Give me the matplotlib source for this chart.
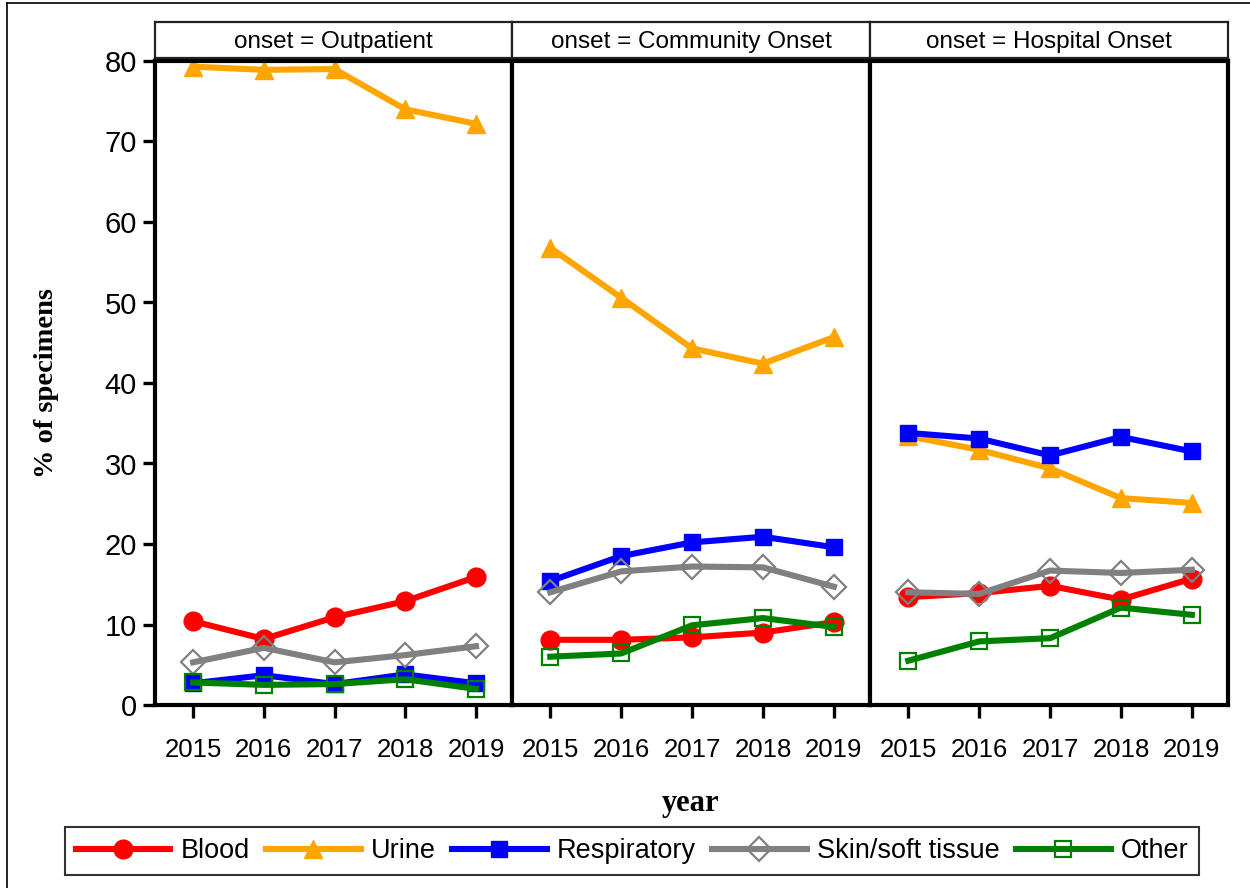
import matplotlib
matplotlib.use("Agg")
import matplotlib.pyplot as plt
from matplotlib.lines import Line2D

# ---- data -------------------------------------------------------------
years = [2015, 2016, 2017, 2018, 2019]
onsets = ["Outpatient", "Community Onset", "Hospital Onset"]
series_names = ["Blood", "Urine", "Respiratory", "Skin/soft tissue", "Other"]

blood = {
    "Outpatient": [10.4, 8.2, 10.9, 12.9, 15.9],
    "Community Onset": [8.1, 8.1, 8.4, 9.0, 10.3],
    "Hospital Onset": [13.4, 13.9, 14.8, 13.1, 15.7],
}
urine = {
    "Outpatient": [79.3, 78.9, 79.0, 74.0, 72.2],
    "Community Onset": [56.8, 50.6, 44.3, 42.4, 45.7],
    "Hospital Onset": [33.4, 31.7, 29.4, 25.7, 25.1],
}
respiratory = {
    "Outpatient": [2.7, 3.7, 2.6, 3.8, 2.7],
    "Community Onset": [15.4, 18.5, 20.2, 20.9, 19.6],
    "Hospital Onset": [33.8, 33.1, 31.0, 33.3, 31.5],
}
skin = {
    "Outpatient": [5.3, 7.1, 5.3, 6.2, 7.3],
    "Community Onset": [14.0, 16.6, 17.2, 17.1, 14.7],
    "Hospital Onset": [14.0, 13.8, 16.7, 16.4, 16.8],
}
other = {
    "Outpatient": [2.8, 2.5, 2.6, 3.2, 2.0],
    "Community Onset": [6.0, 6.4, 9.9, 10.8, 9.7],
    "Hospital Onset": [5.5, 7.9, 8.3, 12.1, 11.2],
}
y_ticks = [0, 10, 20, 30, 40, 50, 60, 70, 80]

# ---- styles -----------------------------------------------------------
styles = [
    dict(color="#FF0000", marker="o", ms=13.5, mfc="#FF0000", mec="#FF0000", mew=1),
    dict(color="#FFA500", marker="^", ms=13.5, mfc="#FFA500", mec="#FFA500", mew=1),
    dict(color="#0000FF", marker="s", ms=11, mfc="#0000FF", mec="#0000FF", mew=1),
    dict(color="#808080", marker="D", ms=12, mfc="none", mec="#808080", mew=1.6),
    dict(color="#008000", marker="s", ms=12, mfc="none", mec="#008000", mew=1.6),
]
all_series = [blood, urine, respiratory, skin, other]

plt.rcParams["font.family"] = ["Liberation Sans", "DejaVu Sans"]

W, H = 1250, 888
fig = plt.figure(figsize=(W / 100, H / 100), dpi=100)

panel_x = [155, 512, 870, 1228]
top_px, bot_px = 61, 705
strip_top, strip_bot = 22, 58

handles = []
for i, onset in enumerate(onsets):
    x0, x1 = panel_x[i], panel_x[i + 1]
    ax = fig.add_axes([x0 / W, 1 - bot_px / H, (x1 - x0) / W, (bot_px - top_px) / H])
    for data, st, name in zip(all_series, styles, series_names):
        ln, = ax.plot(years, data[onset], lw=4.4, label=name,
                      solid_joinstyle="round", **st)
        if i == 0:
            handles.append(ln)
    ax.set_xlim(2014.46, 2019.51)
    ax.set_ylim(0, 80)
    ax.set_xticks(years)
    ax.set_xticklabels([str(y) for y in years], fontsize=18.5)
    ax.tick_params(axis="x", direction="out", length=9, width=2.4, pad=15)
    ax.set_yticks(y_ticks)
    if i == 0:
        ax.set_yticklabels([str(v) for v in y_ticks], fontsize=21)
        ax.tick_params(axis="y", direction="out", length=9, width=2.4, pad=4)
    else:
        ax.tick_params(axis="y", left=False, labelleft=False)
    for sp in ax.spines.values():
        sp.set_linewidth(3.0)
        sp.set_color("black")

    # facet header strip
    sax = fig.add_axes([x0 / W, 1 - strip_bot / H, (x1 - x0) / W, (strip_bot - strip_top) / H])
    sax.set_xticks([])
    sax.set_yticks([])
    for sp in sax.spines.values():
        sp.set_linewidth(1.6)
        sp.set_color("#222222")
    sax.text(0.5, 0.44, f"onset = {onset}", ha="center", va="center",
             fontsize=17.5, transform=sax.transAxes)

# axis titles
fig.text(47 / W, 1 - 383 / H, "% of specimens", rotation=90, ha="center", va="center",
         fontsize=20.5, fontweight="bold", family="Liberation Serif")
fig.text(691 / W, 1 - 803 / H, "year", ha="center", va="center",
         fontsize=22, fontweight="bold", family="Liberation Serif")

# legend
leg = fig.legend(handles=handles, loc="center", ncol=5,
                 bbox_to_anchor=(632 / W, 1 - 851 / H),
                 fontsize=19.5, handlelength=3.5, handletextpad=0.37,
                 columnspacing=0.6, frameon=True, fancybox=False,
                 borderpad=0.4, borderaxespad=0)
leg.get_frame().set_edgecolor("black")
leg.get_frame().set_linewidth(1.5)

# outer frame lines (left and top)
fig.add_artist(Line2D([7 / W, 7 / W], [0, 1 - 3 / H], color="black", lw=1.2,
                      transform=fig.transFigure))
fig.add_artist(Line2D([7 / W, 1], [1 - 3 / H, 1 - 3 / H], color="black", lw=1.2,
                      transform=fig.transFigure))

fig.savefig("out.png", dpi=100)
